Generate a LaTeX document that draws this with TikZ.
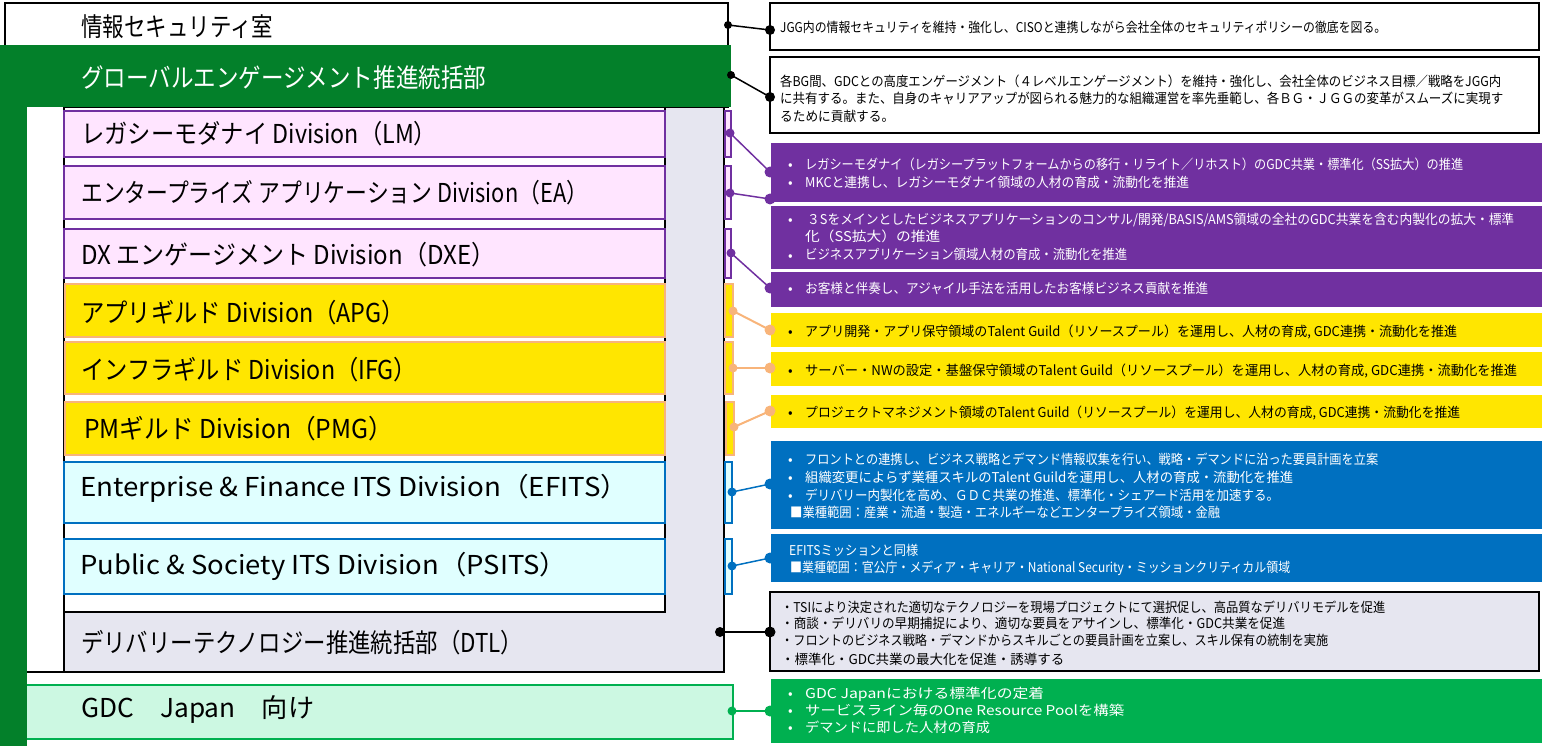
\documentclass[tikz,border=0pt]{standalone}
\usepackage{fontspec}
\setmainfont{Noto Sans CJK JP}
\usepackage{graphicx}
\definecolor{pur}{HTML}{7030A0}
\definecolor{pink}{HTML}{FFE5FF}
\definecolor{yel}{HTML}{FFE600}
\definecolor{org}{HTML}{F8B47A}
\definecolor{blu}{HTML}{0070C0}
\definecolor{cyn}{HTML}{E0FFFF}
\definecolor{dgrn}{HTML}{03802A}
\definecolor{grn}{HTML}{00B050}
\definecolor{mint}{HTML}{CCF8E2}
\definecolor{lav}{HTML}{E6E6F0}
\newcommand{\rbox}[6]{\node[rbx,#1,anchor=north west,minimum width={(#5-#3)*1pt},minimum height={(#6-#4)*1pt}] (#2) at (#3,#4) {};}
\newcommand{\fw}[2]{\resizebox{#1pt}{\height}{#2}}
\begin{document}
\begin{tikzpicture}[x=1pt,y=-1pt,
  rbx/.style={rectangle,inner sep=0pt,outer sep=0pt},
  divP/.style={draw=pur,fill=pink,line width=2.2pt},
  divY/.style={draw=org,fill=yel,line width=2.5pt},
  divB/.style={draw=blu,fill=cyn,line width=2.2pt},
  blk/.style={draw=black,line width=2pt},
  lt/.style={anchor=base west,inner sep=0pt,font=\fontsize{26}{30}\selectfont,yshift=-9.6pt},
  rt/.style={anchor=base west,inner sep=0pt,font=\fontsize{13.5}{16}\selectfont,yshift=-5pt},
  bul/.style={rt},
  cP/.style={draw=pur,line width=1.5pt},
  cY/.style={draw=org,line width=2pt},
  cB/.style={draw=blu,line width=1.5pt},
  cK/.style={draw=black,line width=2pt},
  cG/.style={draw=grn,line width=2pt}]
\useasboundingbox (0,0) rectangle (1542,746);
% container
\filldraw[fill=white,draw=black,line width=2pt] (5,3) -- (728,3) -- (728,107) -- (724,107) -- (724,672) -- (5,672) -- cycle;
\rbox{blk,fill=lav}{dtl}{64}{107}{724}{672}
\rbox{blk,fill=white}{list}{64}{107}{665}{612}
% divisions
\rbox{divP}{lm}{64}{111}{665}{157}
\rbox{divP}{ea}{64}{166}{665}{219}
\rbox{divP}{dxe}{64}{229}{665}{278}
\rbox{divY}{apg}{65}{284}{665}{337}
\rbox{divY}{ifg}{65}{342}{665}{394}
\rbox{divY}{pmg}{65}{402}{665}{455}
\rbox{divB}{efits}{64}{462}{665}{523}
\rbox{divB}{psits}{64}{539}{665}{594}
% brackets
\rbox{divP}{lmk}{725}{111}{731}{157}
\rbox{divP}{eak}{725}{166}{731}{219}
\rbox{divP}{dxek}{725}{229}{731}{278}
\rbox{divY}{apgk}{725}{284}{733}{337}
\rbox{divY}{ifgk}{725}{342}{733}{394}
\rbox{divY}{pmgk}{726}{402}{734}{455}
\rbox{divB}{efitsk}{725}{462}{732}{523}
\rbox{divB}{psitsk}{725}{539}{732}{594}
% green bars and GDC box
\rbox{draw=grn,fill=mint,line width=2pt}{gdc}{20}{685}{733}{739}
\rbox{fill=dgrn}{gebar}{0}{45}{731}{107}
\rbox{fill=dgrn}{gevbar}{0}{45}{27}{746}
% right boxes
\rbox{draw=black,fill=white,line width=2.5pt}{r1}{770}{3}{1539}{50}
\rbox{draw=black,fill=white,line width=2.5pt}{r2}{770}{57}{1539}{133}
\rbox{fill=pur}{p1}{771}{143}{1542}{202}
\rbox{fill=pur}{p2}{771}{206}{1542}{269}
\rbox{fill=pur}{p3}{771}{272}{1542}{307}
\rbox{fill=yel}{y1}{771}{313}{1542}{347}
\rbox{fill=yel}{y2}{771}{352}{1542}{386}
\rbox{fill=yel}{y3}{771}{395}{1542}{428}
\rbox{fill=blu}{b1}{771}{441}{1542}{529}
\rbox{fill=blu}{b2}{771}{534}{1542}{582}
\rbox{draw=black,fill=lav,line width=2.5pt}{g1}{770}{592}{1539}{671}
\rbox{fill=grn}{gr1}{771}{679}{1542}{743}
% connector end points
\coordinate (secA) at (728,25);  \coordinate (secB) at (770,30);
\coordinate (geA) at (731,75);   \coordinate (geB) at (770,97);
\coordinate (lmA) at (730,133);  \coordinate (lmB) at (770,172);
\coordinate (eaA) at (730,193);  \coordinate (eaB) at (770,199);
\coordinate (dxeA) at (731,253); \coordinate (dxeB) at (770,288);
\coordinate (apgA) at (733,311); \coordinate (apgB) at (770,330);
\coordinate (ifgA) at (733,368); \coordinate (ifgB) at (770,368);
\coordinate (pmgA) at (734,427); \coordinate (pmgB) at (770,411);
\coordinate (efA) at (732,492);  \coordinate (efB) at (770,484);
\coordinate (psA) at (732,566);  \coordinate (psB) at (770,558);
\coordinate (dtlA) at (720,632); \coordinate (dtlB) at (770,632);
\coordinate (gdcA) at (732,711); \coordinate (gdcB) at (770,711);
\draw[cK,line width=1.5pt] (secA) -- (secB);
\draw[cK,line width=1.5pt] (geA) -- (geB);
\draw[cP] (lmA) -- (lmB);
\draw[cP] (eaA) -- (eaB);
\draw[cP] (dxeA) -- (dxeB);
\draw[cY] (apgA) -- (apgB);
\draw[cY] (ifgA) -- (ifgB);
\draw[cY] (pmgA) -- (pmgB);
\draw[cB] (efA) -- (efB);
\draw[cB] (psA) -- (psB);
\draw[cK] (dtlA) -- (dtlB);
\draw[cG] (gdcA) -- (gdcB);
\fill[black] (secA) circle (4pt) (secB) circle (5pt) (geA) circle (4pt) (geB) circle (5pt);
\fill[pur] (lmA) circle (4.5pt) (lmB) circle (5.5pt) (eaA) circle (4.5pt) (eaB) circle (5.5pt) (dxeA) circle (4.5pt) (dxeB) circle (5.5pt);
\fill[org] (apgA) circle (4.5pt) (apgB) circle (5.5pt) (ifgA) circle (4.5pt) (ifgB) circle (5.5pt) (pmgA) circle (4.5pt) (pmgB) circle (5.5pt);
\fill[blu] (efA) circle (4.5pt) (efB) circle (5.5pt) (psA) circle (4.5pt) (psB) circle (5.5pt);
\fill[black] (dtlA) circle (5pt) (dtlB) circle (5.5pt);
\fill[grn] (gdcA) circle (4.5pt) (gdcB) circle (5.5pt);
% left texts
\node[lt] (tsec) at (81,27) {\fw{192}{情報セキュリティ室}};
\node[lt,text=white] (tge) at (81,78) {\fw{405}{グローバルエンゲージメント推進統括部}};
\node[lt] (tlm) at (81,134) {\fw{356}{レガシーモダナイ Division（LM）}};
\node[lt] (tea) at (81,193) {\fw{507}{エンタープライズ アプリケーション Division（EA）}};
\node[lt] (tdxe) at (81,255) {\fw{414}{DX エンゲージメント Division（DXE）}};
\node[lt] (tapg) at (81,313) {\fw{324}{アプリギルド Division（APG）}};
\node[lt] (tifg) at (81,370) {\fw{336}{インフラギルド Division（IFG）}};
\node[lt] (tpmg) at (84,429) {\fw{309}{PMギルド Division（PMG）}};
\node[lt] (tef) at (80,487) {\fw{548}{Enterprise \& Finance ITS Division（EFITS）}};
\node[lt] (tps) at (80,565) {\fw{487}{Public \& Society ITS Division（PSITS）}};
\node[lt] (tdtl) at (81,643) {\fw{442}{デリバリーテクノロジー推進統括部（DTL）}};
\node[lt] (tgdc) at (81,708) {\fw{233}{GDC　Japan　向け}};
% right texts: white boxes
\node[rt] (s1) at (780,28) {\fw{606}{JGG内の情報セキュリティを維持・強化し、CISOと連携しながら会社全体のセキュリティポリシーの徹底を図る。}};
\node[rt] (e1) at (780,82) {\fw{721}{各BG間、GDCとの高度エンゲージメント（４レベルエンゲージメント）を維持・強化し、会社全体のビジネス目標／戦略をJGG内}};
\node[rt] (e2) at (780,99) {\fw{723}{に共有する。また、自身のキャリアアップが図られる魅力的な組織運営を率先垂範し、各ＢＧ・ＪＧＧの変革がスムーズに実現す}};
\node[rt] (e3) at (780,117) {\fw{114}{るために貢献する。}};
% purple
\begin{scope}[every node/.append style={text=white}]
\node[bul] (pb1) at (788,165) {•};
\node[rt] (p1a) at (805,165) {\fw{658}{レガシーモダナイ（レガシープラットフォームからの移行・リライト／リホスト）のGDC共業・標準化（SS拡大）の推進}};
\node[bul] (pb2) at (788,183) {•};
\node[rt] (p1b) at (805,183) {\fw{384}{MKCと連携し、レガシーモダナイ領域の人材の育成・流動化を推進}};
\node[bul] (pb3) at (788,220) {•};
\node[rt] (p2a) at (807,220) {\fw{707}{３Sをメインとしたビジネスアプリケーションのコンサル/開発/BASIS/AMS領域の全社のGDC共業を含む内製化の拡大・標準}};
\node[rt] (p2b) at (805,237) {\fw{135}{化（SS拡大）の推進}};
\node[bul] (pb4) at (788,255) {•};
\node[rt] (p2c) at (805,255) {\fw{322}{ビジネスアプリケーション領域人材の育成・流動化を推進}};
\node[bul] (pb5) at (788,288) {•};
\node[rt] (p3a) at (805,288) {\fw{403}{お客様と伴奏し、アジャイル手法を活用したお客様ビジネス貢献を推進}};
% blue
\node[bul] (bb1) at (788,459) {•};
\node[rt] (b1a) at (805,459) {\fw{573}{フロントとの連携し、ビジネス戦略とデマンド情報収集を行い、戦略・デマンドに沿った要員計画を立案}};
\node[bul] (bb2) at (788,477) {•};
\node[rt] (b1b) at (805,477) {\fw{488}{組織変更によらず業種スキルのTalent Guildを運用し、人材の育成・流動化を推進}};
\node[bul] (bb3) at (788,495) {•};
\node[rt] (b1c) at (805,495) {\fw{474}{デリバリー内製化を高め、ＧＤＣ共業の推進、標準化・シェアード活用を加速する。}};
\node[rt] (b1d) at (790,512) {\fw{430}{■業種範囲：産業・流通・製造・エネルギーなどエンタープライズ領域・金融}};
\node[rt] (b2a) at (789,550) {\fw{129}{EFITSミッションと同様}};
\node[rt] (b2b) at (790,567) {\fw{500}{■業種範囲：官公庁・メディア・キャリア・National Security・ミッションクリティカル領域}};
% green
\node[bul] (gb1) at (788,693) {•};
\node[rt] (gr1a) at (805,693) {\fw{239}{GDC Japanにおける標準化の定着}};
\node[bul] (gb2) at (788,710) {•};
\node[rt] (gr1b) at (805,710) {\fw{319}{サービスライン毎のOne Resource Poolを構築}};
\node[bul] (gb3) at (788,727) {•};
\node[rt] (gr1c) at (805,727) {\fw{185}{デマンドに即した人材の育成}};
\end{scope}
% yellow
\node[bul] (yb1) at (788,331) {•};
\node[rt] (y1a) at (805,331) {\fw{652}{アプリ開発・アプリ保守領域のTalent Guild（リソースプール）を運用し、人材の育成, GDC連携・流動化を推進}};
\node[bul] (yb2) at (788,370) {•};
\node[rt] (y2a) at (805,370) {\fw{712}{サーバー・NWの設定・基盤保守領域のTalent Guild（リソースプール）を運用し、人材の育成, GDC連携・流動化を推進}};
\node[bul] (yb3) at (788,412) {•};
\node[rt] (y3a) at (805,412) {\fw{655}{プロジェクトマネジメント領域のTalent Guild（リソースプール）を運用し、人材の育成, GDC連携・流動化を推進}};
% gray
\node[rt] (g1a) at (781,607) {\fw{604}{・TSIにより決定された適切なテクノロジーを現場プロジェクトにて選択促し、高品質なデリバリモデルを促進}};
\node[rt] (g1b) at (781,623) {\fw{504}{・商談・デリバリの早期捕捉により、適切な要員をアサインし、標準化・GDC共業を促進}};
\node[rt] (g1c) at (781,640) {\fw{547}{・フロントのビジネス戦略・デマンドからスキルごとの要員計画を立案し、スキル保有の統制を実施}};
\node[rt] (g1d) at (781,659) {\fw{283}{・標準化・GDC共業の最大化を促進・誘導する}};
\end{tikzpicture}
\end{document}
